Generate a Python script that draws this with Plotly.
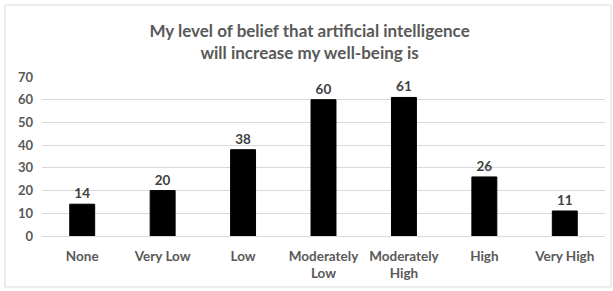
import plotly.graph_objects as go

categories = ["None", "Very Low", "Low", "Moderately<br>Low", "Moderately<br>High", "High", "Very High"]
values = [14, 20, 38, 60, 61, 26, 11]
y_ticks = [0, 10, 20, 30, 40, 50, 60, 70]

FONT = "Lato"
L, R, T, B = 42, 8, 77, 55
W, H = 613, 291
pw = W - L - R
ph = H - T - B

fig = go.Figure(go.Bar(
    x=categories, y=values,
    marker=dict(color="#000000", line=dict(color="#000000", width=1)),
    width=0.31,
    text=values, textposition="outside",
    textfont=dict(family=FONT, size=13.5, color="#404040", weight="bold"),
    cliponaxis=False,
))

fig.update_layout(
    width=W, height=H,
    margin=dict(l=L, r=R, t=T, b=B, autoexpand=False),
    paper_bgcolor="white", plot_bgcolor="white",
    showlegend=False,
    title=dict(
        text="My level of belief that artificial intelligence<br>will increase my well-being is",
        x=0.505, xref="container", xanchor="center",
        y=1 - 37 / H, yref="container", yanchor="middle",
        font=dict(family=FONT, size=17, color="#595959", weight="bold"),
        automargin=False,
    ),
    xaxis=dict(
        showgrid=False, showline=False, ticks="", automargin=False,
        ticklabelstandoff=10,
        tickfont=dict(family=FONT, size=13.5, color="#595959", weight="bold"),
        fixedrange=True,
    ),
    yaxis=dict(
        range=[0, 70], tickvals=y_ticks, automargin=False,
        showgrid=True, gridcolor="#d9d9d9", gridwidth=1,
        zeroline=True, zerolinecolor="#d9d9d9", zerolinewidth=1,
        showline=False, ticks="", ticklabelstandoff=8,
        tickfont=dict(family=FONT, size=13, color="#595959", weight="bold"),
        fixedrange=True,
    ),
    shapes=[dict(
        type="rect", xref="paper", yref="paper",
        x0=(5 - L) / pw, x1=(611 - L) / pw,
        y0=(T + ph - 287) / ph, y1=(T + ph - 5) / ph,
        line=dict(color="#d9d9d9", width=1), fillcolor="rgba(0,0,0,0)", layer="below",
    )],
)

fig.write_html(
    "out.html",
    config={"displayModeBar": False},
    post_script="document.body.style.margin='0';document.body.style.overflow='hidden';",
)
